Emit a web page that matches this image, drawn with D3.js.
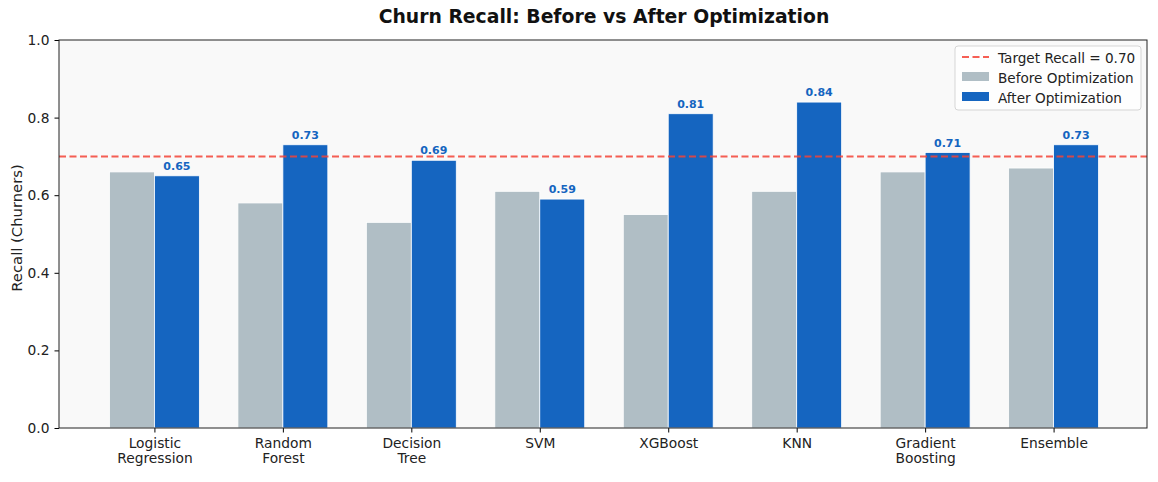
<!DOCTYPE html>
<html>
<head>
<meta charset="utf-8">
<script src="https://cdn.jsdelivr.net/npm/d3@7"></script>
<style>
  body { margin: 0; background: #ffffff; }
  svg, svg text { font-family: "DejaVu Sans", sans-serif; }
</style>
</head>
<body>
<script>
// Chart data
const models = ["Logistic\nRegression", "Random\nForest", "Decision\nTree", "SVM", "XGBoost", "KNN", "Gradient\nBoosting", "Ensemble"];
const beforeRecall = [0.66, 0.58, 0.53, 0.61, 0.55, 0.61, 0.66, 0.67];
const afterRecall = [0.65, 0.73, 0.69, 0.59, 0.81, 0.84, 0.71, 0.73];
const targetRecall = 0.70;
const yTicks = [0, 0.2, 0.4, 0.6, 0.8, 1.0];
const legendLabels = ["Target Recall = 0.70", "Before Optimization", "After Optimization"];

const W = 1158, H = 482;
const margin = { top: 40, right: 11, bottom: 54, left: 59 };
const width = W - margin.left - margin.right;
const height = H - margin.top - margin.bottom;
const barW = 0.35;

const svg = d3.select("body").append("svg")
  .attr("width", W).attr("height", H);

const g = svg.append("g")
  .attr("transform", `translate(${margin.left},${margin.top})`);

// plot background
g.append("rect")
  .attr("width", width).attr("height", height)
  .attr("fill", "#f9f9f9");

// scales (matplotlib-like continuous x with 5% margins)
const x = d3.scaleLinear()
  .domain([-0.735, models.length - 1 + 0.735])
  .range([1, width + 1]);
const y = d3.scaleLinear().domain([0, 1]).range([height, 0]);

// bars
const idx = d3.range(models.length);
g.selectAll("rect.before")
  .data(idx).enter().append("rect")
  .attr("class", "before")
  .attr("x", (i) => x(i - barW))
  .attr("y", (i) => y(beforeRecall[i]))
  .attr("width", x(barW) - x(0))
  .attr("height", (i) => y(0) - y(beforeRecall[i]))
  .attr("fill", "#b0bec5")
  .attr("stroke", "#ffffff").attr("stroke-width", 0.8);

g.selectAll("rect.after")
  .data(idx).enter().append("rect")
  .attr("class", "after")
  .attr("x", (i) => x(i))
  .attr("y", (i) => y(afterRecall[i]))
  .attr("width", x(barW) - x(0))
  .attr("height", (i) => y(0) - y(afterRecall[i]))
  .attr("fill", "#1565c0")
  .attr("stroke", "#ffffff").attr("stroke-width", 0.8);

// value labels above after bars
g.selectAll("text.val")
  .data(idx).enter().append("text")
  .attr("class", "val")
  .attr("x", (i) => x(i + barW / 2))
  .attr("y", (i) => y(afterRecall[i]) - 6)
  .attr("text-anchor", "middle")
  .attr("font-size", 11).attr("font-weight", "bold")
  .attr("fill", "#1565c0")
  .text((i) => afterRecall[i].toFixed(2));

// target line
g.append("line")
  .attr("x1", 0).attr("x2", width)
  .attr("y1", y(targetRecall)).attr("y2", y(targetRecall))
  .attr("stroke", "#f44336").attr("stroke-opacity", 0.85)
  .attr("stroke-width", 2).attr("stroke-dasharray", "7,3.5");

// axes
const yAxis = d3.axisLeft(y).tickValues(yTicks).tickFormat(d3.format(".1f")).tickSizeOuter(0).tickSize(4.5).tickPadding(5);
const yg = g.append("g").call(yAxis)
  .attr("font-family", "DejaVu Sans").attr("font-size", 13.8);
yg.selectAll("text").attr("fill", "#222");

const xAxis = d3.axisBottom(x).tickValues(idx).tickFormat(() => "").tickSizeOuter(0).tickSize(4.5);
const xg = g.append("g").attr("transform", `translate(0,${height})`).call(xAxis)
  .attr("font-family", "DejaVu Sans").attr("font-size", 13.8);
xg.select(".domain").remove();
yg.select(".domain").remove();

xg.selectAll(".tick").append("text")
  .attr("fill", "#222").attr("text-anchor", "middle")
  .attr("y", 20)
  .selectAll("tspan")
  .data((i) => models[i].split("\n"))
  .enter().append("tspan")
  .attr("x", 0)
  .attr("dy", (d, j) => (j === 0 ? 0 : 15))
  .text((d) => d);

// frame
g.append("rect")
  .attr("width", width).attr("height", height)
  .attr("fill", "none").attr("stroke", "#222").attr("stroke-width", 1);

// y label
svg.append("text")
  .attr("transform", `translate(22,228) rotate(-90)`)
  .attr("text-anchor", "middle")
  .attr("font-size", 14.8).attr("fill", "#222")
  .text("Recall (Churners)");

// title
svg.append("text")
  .attr("x", margin.left + width / 2 + 1).attr("y", 23)
  .attr("text-anchor", "middle")
  .attr("font-size", 18.8).attr("font-weight", "bold").attr("fill", "#111")
  .text("Churn Recall: Before vs After Optimization");

// legend
const lg = svg.append("g").attr("transform", "translate(955,46)");
lg.append("rect")
  .attr("width", 186).attr("height", 64).attr("rx", 3)
  .attr("fill", "#ffffff").attr("fill-opacity", 0.85)
  .attr("stroke", "#d5d5d5");
lg.append("line")
  .attr("x1", 7).attr("x2", 34).attr("y1", 11).attr("y2", 11)
  .attr("stroke", "#f44336").attr("stroke-opacity", 0.85)
  .attr("stroke-width", 2).attr("stroke-dasharray", "7,3.5");
lg.append("rect").attr("x", 7).attr("y", 26).attr("width", 27).attr("height", 9).attr("fill", "#b0bec5");
lg.append("rect").attr("x", 7).attr("y", 46).attr("width", 27).attr("height", 9).attr("fill", "#1565c0");
lg.selectAll("text.leg")
  .data(legendLabels).enter().append("text")
  .attr("class", "leg")
  .attr("x", 43).attr("y", (d, i) => 16.5 + i * 20)
  .attr("font-size", 13.6).attr("fill", "#222")
  .text((d) => d);
</script>
</body>
</html>
